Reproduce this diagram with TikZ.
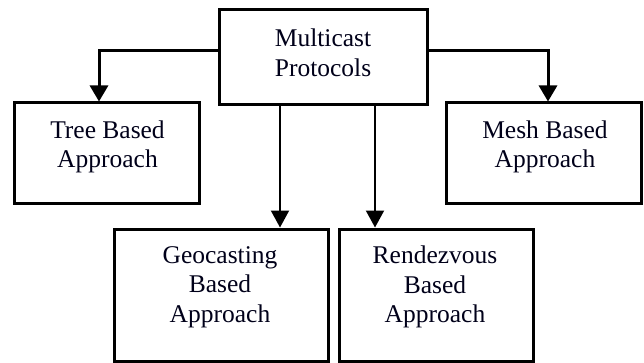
\documentclass[tikz,border=0pt]{standalone}
\usepackage{fontspec}
\setmainfont{Liberation Serif}
\usetikzlibrary{arrows.meta}
\begin{document}
\begin{tikzpicture}[x=1pt,y=-1pt,
  box/.style={draw=black,line width=3pt,rectangle,inner sep=0pt},
  txt/.style={align=center,inner sep=0pt,font=\fontsize{25.5}{29.5}\selectfont,text=black!90!blue},
  arr/.style={line width=3pt,-{Triangle[length=16pt,width=18pt]}},
  arrthin/.style={line width=2pt,-{Triangle[length=17pt,width=18pt]}}]
\useasboundingbox (0,0) rectangle (644,363);
% boxes
\node[box,minimum width=208pt,minimum height=95pt] (top) at (323,57.5) {};
\node[txt] (topt) at (323,53) {Multicast\\Protocols};
\node[box,minimum width=185pt,minimum height=101pt] (tree) at (106.5,153.5) {};
\node[txt] (treet) at (107.5,147) {Tree Based\\Approach};
\node[box,minimum width=195pt,minimum height=101pt] (mesh) at (543.5,153.5) {};
\node[txt] (mesht) at (545,147) {Mesh Based\\Approach};
\node[box,minimum width=214pt,minimum height=132pt] (geo) at (221,295) {};
\node[txt] (geot) at (220,287) {Geocasting\\Based\\Approach};
\node[box,minimum width=194pt,minimum height=132pt] (rend) at (436,295) {};
\node[txt] (rendt) at (435,287) {Rendezvous\\Based\\Approach};
% helper coordinates
\coordinate (tl) at (99,51);
\coordinate (tr) at (548,51);
\coordinate (ml) at (280,0);
\coordinate (mr) at (375,0);
% connectors
\draw[arr] (top.west |- tl) -| (tree.north -| tl);
\draw[arr] (top.east |- tr) -| (mesh.north -| tr);
\draw[arrthin] (top.south -| ml) -- (geo.north -| ml);
\draw[arrthin] (top.south -| mr) -- (rend.north -| mr);
\end{tikzpicture}
\end{document}
